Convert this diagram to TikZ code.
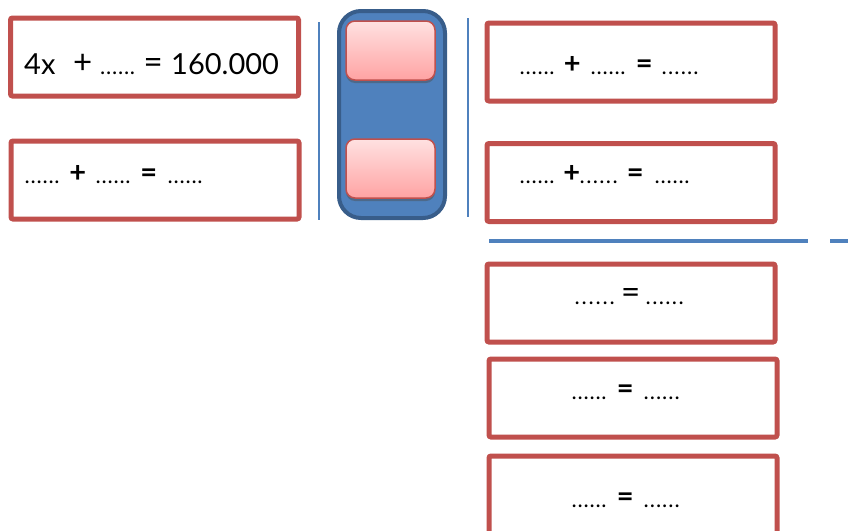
\documentclass[tikz,border=0pt]{standalone}
\usepackage{fontspec}
\setmainfont{Lato}
\usetikzlibrary{calc,shadows}
\definecolor{boxred}{HTML}{C0504D}
\definecolor{barblue}{HTML}{4F81BD}
\definecolor{rimblue}{HTML}{385D8A}
\definecolor{pinktop}{HTML}{FFE1E1}
\definecolor{pinkbot}{HTML}{FFA3A3}
\newcommand{\dts}[1][35pt]{\makebox[#1][s]{\fontsize{22}{26}\selectfont.\hfil.\hfil.\hfil.\hfil.\hfil.}}
\newcommand{\opr}[2][12pt]{\makebox[#1]{\fontsize{29}{30}\selectfont\raisebox{1pt}{\textbf{#2}}}}
\newcommand{\sym}[2][13pt]{\makebox[#1]{\fontsize{33}{34}\selectfont\raisebox{0.5pt}{#2}}}
\tikzset{
  box/.style={draw=boxred, line width=5pt, rounded corners=2pt, fill=white,
    minimum width=288pt, minimum height=78pt, inner sep=0pt},
  capsule/.style={draw=rimblue, fill=barblue, line width=4pt, rounded corners=22pt,
    minimum width=106pt, minimum height=207pt, inner sep=0pt},
  button/.style={draw=boxred, line width=1.5pt, rounded corners=9pt,
    top color=pinktop, bottom color=pinkbot,
    minimum width=89pt, minimum height=59pt, inner sep=0pt,
    drop shadow={shadow xshift=0pt, shadow yshift=-3pt, opacity=0.45, fill=black!70}},
  sep/.style={draw=barblue, line width=2pt},
  rule/.style={draw=barblue, line width=4pt},
  big/.style={inner sep=0pt, anchor=base west, font=\fontsize{29}{34}\selectfont},
  small/.style={inner sep=0pt, anchor=base west, font=\fontsize{22}{26}\selectfont}
}

\begin{document}
\begin{tikzpicture}[x=1pt,y=-1pt]
  \useasboundingbox (0,0) rectangle (848,530);

  % separators
  \coordinate (sepLa) at (319,22);
  \coordinate (sepLb) at (319,220);
  \coordinate (sepRa) at (468,18);
  \coordinate (sepRb) at (468,217);
  \draw[sep] (sepLa) -- (sepLb);
  \draw[sep] (sepRa) -- (sepRb);
  \coordinate (ruleA) at (489,241);
  \coordinate (ruleB) at (808,241);
  \coordinate (ruleC) at (830,241);
  \coordinate (ruleD) at (850,241);
  \draw[rule] (ruleA) -- (ruleB);
  \draw[rule] (ruleC) -- (ruleD);

  % equation boxes
  \node[box] (eqA) at (154.5,57) {};
  \node[box] (eqB) at (155,180) {};
  \node[box] (eqC) at (631,62) {};
  \node[box] (eqD) at (631,182.5) {};
  \node[box] (eqE) at (631,303) {};
  \node[box] (eqF) at (633,398) {};
  \node[box] (eqG) at (633,495) {};

  \node[big] (tA) at ($(eqA.west)+(16,17)$)
    {\makebox[52pt][l]{4x}\sym{+}\hspace{11pt}\dts\hspace{13pt}\sym[10pt]{=}\hspace{13pt}160.000};
  \node[small] (tB) at ($(eqB.west)+(16,3)$)
    {\dts\hspace{12pt}\opr{+}\hspace{12pt}\dts\hspace{12pt}\opr{=}\hspace{13pt}\dts};
  \node[small] (tC) at ($(eqC.west)+(35,12)$)
    {\dts\hspace{11pt}\opr[13pt]{+}\hspace{12pt}\dts\hspace{12pt}\opr[13pt]{=}\hspace{11pt}\dts[37pt]};
  \node[small] (tD) at ($(eqD.west)+(35,0.5)$)
    {\dts\hspace{11pt}\opr{+}\hspace{2pt}\dts[38pt]\hspace{12pt}\opr[11pt]{=}\hspace{14pt}\dts};
  \node[small] (tE) at ($(eqE.west)+(90,1)$)
    {\dts[40pt]\hspace{10pt}\sym[12pt]{=}\hspace{9pt}\dts[38pt]};
  \node[small] (tF) at ($(eqF.west)+(85,1)$)
    {\dts\hspace{13pt}\opr[11pt]{=}\hspace{13pt}\dts[36pt]};
  \node[small] (tG) at ($(eqG.west)+(85,12)$)
    {\dts\hspace{13pt}\opr[11pt]{=}\hspace{13pt}\dts[36pt]};

  % slot with two buttons
  \node[capsule] (slot) at (392,114.5) {};
  \node[button] (btnA) at (390.5,50.5) {};
  \node[button] (btnB) at (390.5,168.5) {};
\end{tikzpicture}
\end{document}
